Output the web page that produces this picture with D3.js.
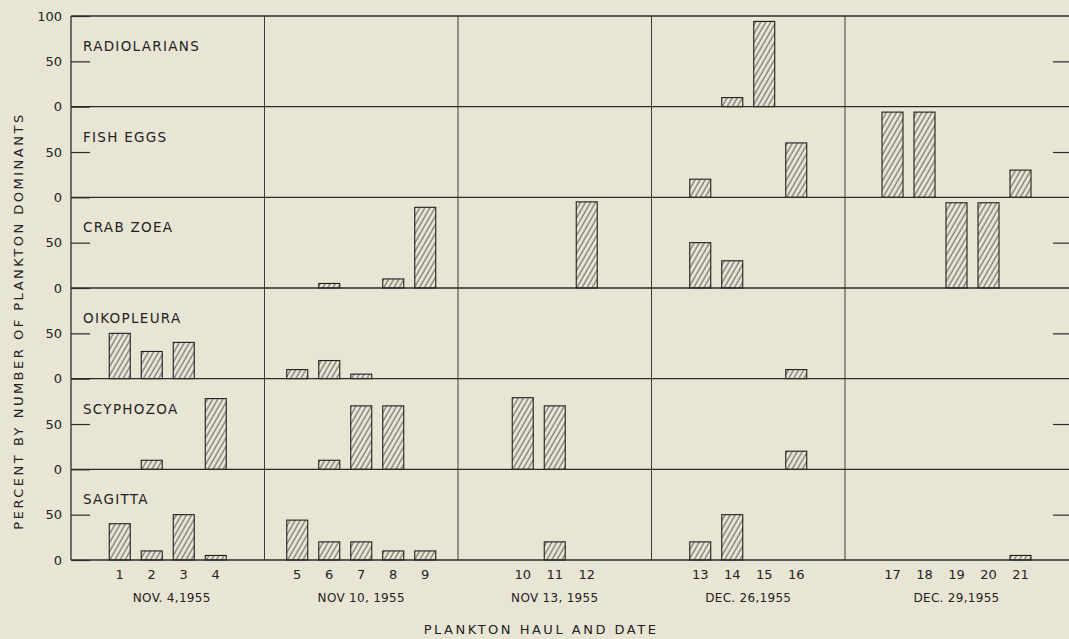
<!DOCTYPE html>
<html>
<head>
<meta charset="utf-8">
<script src="https://cdn.jsdelivr.net/npm/d3@7"></script>
<style>
  html, body { margin: 0; padding: 0; background: #e9e5d5; }
  svg { display: block; }
  text { font-family: "DejaVu Sans", sans-serif; fill: #222; }
</style>
</head>
<body>
<script>
// ---------------- DATA ----------------
const taxa = ["RADIOLARIANS", "FISH EGGS", "CRAB ZOEA", "OIKOPLEURA", "SCYPHOZOA", "SAGITTA"];
const dates = ["NOV. 4,1955", "NOV 10, 1955", "NOV 13, 1955", "DEC. 26,1955", "DEC. 29,1955"];
const hauls = [1, 2, 3, 4, 5, 6, 7, 8, 9, 10, 11, 12, 13, 14, 15, 16, 17, 18, 19, 20, 21];
const haulDate = [0, 0, 0, 0, 1, 1, 1, 1, 1, 2, 2, 2, 3, 3, 3, 3, 4, 4, 4, 4, 4];

// percent by number, per haul 1..21 (0 = no bar)
const radiolarians = [0, 0, 0, 0, 0, 0, 0, 0, 0, 0, 0, 0, 0, 10, 94, 0, 0, 0, 0, 0, 0];
const fishEggs     = [0, 0, 0, 0, 0, 0, 0, 0, 0, 0, 0, 0, 20, 0, 0, 60, 94, 94, 0, 0, 30];
const crabZoea     = [0, 0, 0, 0, 0, 5, 0, 10, 89, 0, 0, 95, 50, 30, 0, 0, 0, 0, 94, 94, 0];
const oikopleura   = [50, 30, 40, 0, 10, 20, 5, 0, 0, 0, 0, 0, 0, 0, 0, 10, 0, 0, 0, 0, 0];
const scyphozoa    = [0, 10, 0, 78, 0, 10, 70, 70, 0, 79, 70, 0, 0, 0, 0, 20, 0, 0, 0, 0, 0];
const sagitta      = [40, 10, 50, 5, 44, 20, 20, 10, 10, 0, 20, 0, 20, 50, 0, 0, 0, 0, 0, 0, 5];
const seriesValues = [radiolarians, fishEggs, crabZoea, oikopleura, scyphozoa, sagitta];

const yTicks = [0, 50];
const yTopTick = 100;
const xTitle = "PLANKTON HAUL AND DATE";
const yTitle = "PERCENT BY NUMBER OF PLANKTON DOMINANTS";

// ---------------- LAYOUT ----------------
const W = 1069, H = 639;
const mLeft = 71, mRight = 1068, mTop = 16, mBottom = 560;
const colStep = 193.5;
const barW = 21;
const lineColor = "#2a2a2a";
const bg = "#e9e5d5";

const svg = d3.select("body").append("svg").attr("width", W).attr("height", H);
svg.append("rect").attr("width", W).attr("height", H).attr("fill", bg);

// hatch pattern
const defs = svg.append("defs");
const pat = defs.append("pattern")
  .attr("id", "hatch")
  .attr("patternUnits", "userSpaceOnUse")
  .attr("width", 4.4).attr("height", 10)
  .attr("patternTransform", "rotate(30)");
pat.append("rect").attr("width", 4.4).attr("height", 10).attr("fill", bg);
pat.append("line").attr("x1", 1).attr("y1", 0).attr("x2", 1).attr("y2", 10)
  .attr("stroke", "#333").attr("stroke-width", 0.85);

// scales
const rowScale = d3.scaleBand().domain(taxa).range([mTop, mBottom]).padding(0);
const colLeft = d3.scaleLinear().domain([0, 4]).range([mLeft, mLeft + 4 * colStep]);
const colRight = i => (i < 4 ? colLeft(i + 1) : mRight);
const colCenter = i => (colLeft(i) + colRight(i)) / 2;
const slot = d3.scaleLinear().domain([0, 1]).range([0, 32]);

const groupCount = dates.map((d, i) => haulDate.filter(g => g === i).length);
const xPos = hauls.map((h, k) => {
  const g = haulDate[k];
  const idx = haulDate.slice(0, k).filter(v => v === g).length;
  return colCenter(g) + slot(idx - (groupCount[g] - 1) / 2);
});
const x = d3.scaleOrdinal().domain(hauls).range(xPos);

// ---------------- ROWS ----------------
taxa.forEach((taxon, r) => {
  const y0 = rowScale(taxon), y1 = y0 + rowScale.bandwidth();
  const y = d3.scaleLinear().domain([0, 100]).range([y1, y0]);
  const g = svg.append("g");

  // bars
  const data = hauls.map((h, k) => ({ h, v: seriesValues[r][k] })).filter(d => d.v > 0);
  g.selectAll("rect.bar").data(data).join("rect")
    .attr("class", "bar")
    .attr("x", d => x(d.h) - barW / 2)
    .attr("y", d => y(d.v))
    .attr("width", barW)
    .attr("height", d => y(0) - y(d.v))
    .attr("fill", "url(#hatch)")
    .attr("stroke", "#1e1e1e")
    .attr("stroke-width", 1.1);

  // left axis
  const tv = r === 0 ? yTicks.concat([yTopTick]) : yTicks;
  const ax = g.append("g").attr("transform", `translate(${mLeft},0)`)
    .call(d3.axisLeft(y).tickValues(tv).tickSizeInner(-19).tickSizeOuter(0).tickPadding(9));
  ax.select(".domain").remove();
  ax.selectAll(".tick line").attr("stroke", lineColor).attr("stroke-width", 1.2);
  ax.selectAll(".tick text").style("font-family", "DejaVu Sans, sans-serif")
    .style("font-size", "13px").attr("fill", "#222");

  // right axis (inward ticks)
  const axr = g.append("g").attr("transform", `translate(${mRight + 1},0)`)
    .call(d3.axisRight(y).tickValues([50]).tickSizeInner(-16).tickSizeOuter(0).tickFormat(""));
  axr.select(".domain").remove();
  axr.selectAll(".tick line").attr("stroke", lineColor).attr("stroke-width", 1.2);

  // row bottom line
  g.append("line").attr("x1", mLeft).attr("x2", W).attr("y1", y1).attr("y2", y1)
    .attr("stroke", lineColor).attr("stroke-width", 1.3);

  // panel label
  g.append("text").attr("x", mLeft + 12).attr("y", y0 + 35)
    .style("font-size", "13.5px").style("letter-spacing", "1.3px")
    .text(taxon);
});

// top border
svg.append("line").attr("x1", mLeft).attr("x2", W).attr("y1", mTop).attr("y2", mTop)
  .attr("stroke", lineColor).attr("stroke-width", 1.3);
// left border
svg.append("line").attr("x1", mLeft).attr("x2", mLeft).attr("y1", mTop).attr("y2", mBottom)
  .attr("stroke", lineColor).attr("stroke-width", 1.3);
// column separators
[1, 2, 3, 4].forEach(i => {
  svg.append("line").attr("x1", colLeft(i)).attr("x2", colLeft(i)).attr("y1", mTop).attr("y2", mBottom)
    .attr("stroke", "#3c3c3c").attr("stroke-width", 1);
});

// haul numbers
svg.append("g").selectAll("text").data(hauls).join("text")
  .attr("x", d => x(d)).attr("y", 579)
  .attr("text-anchor", "middle")
  .style("font-size", "13px")
  .text(d => d);

// date labels
svg.append("g").selectAll("text").data(dates).join("text")
  .attr("x", (d, i) => colCenter(i) + (i === 0 ? 4 : 0)).attr("y", 602)
  .attr("text-anchor", "middle")
  .style("font-size", "12px").style("letter-spacing", "0.3px")
  .text(d => d);

// x title
svg.append("text").attr("x", 541).attr("y", 634)
  .attr("text-anchor", "middle")
  .style("font-size", "13px").style("letter-spacing", "2.5px")
  .text(xTitle);

// y title
svg.append("text")
  .attr("transform", "translate(23,321) rotate(-90)")
  .attr("text-anchor", "middle")
  .style("font-size", "13px").style("letter-spacing", "2.5px")
  .text(yTitle);
</script>
</body>
</html>
